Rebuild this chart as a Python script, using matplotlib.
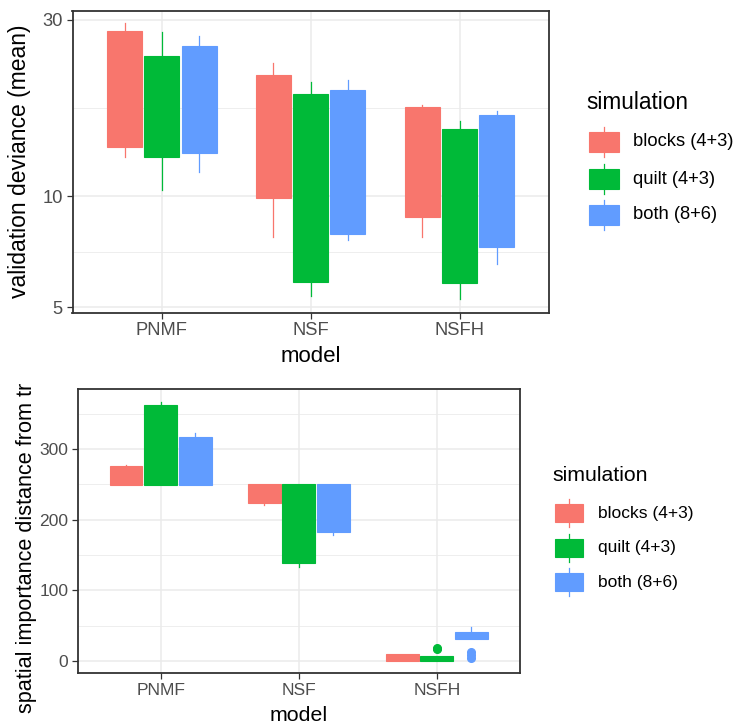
import numpy as np
import matplotlib
matplotlib.use("Agg")
import matplotlib.pyplot as plt
from matplotlib.patches import Rectangle
from matplotlib.lines import Line2D

plt.rcParams['font.family'] = ['Liberation Sans', 'DejaVu Sans']

W, H = 736, 725

models = ["PNMF", "NSF", "NSFH"]
sims = ["blocks (4+3)", "quilt (4+3)", "both (8+6)"]
colors = ["#F8766D", "#00BA38", "#619CFF"]

# validation deviance (mean), one list per simulation, ordered like models
dev_whislo = [[12.8, 7.78, 7.78], [10.4, 5.38, 5.27], [11.6, 7.60, 6.56]]
dev_q1 = [[13.6, 9.9, 8.77], [12.8, 5.85, 5.81], [13.1, 7.91, 7.27]]
dev_med = [[20.0, 15.0, 12.0], [18.0, 11.0, 9.5], [19.0, 13.0, 11.0]]
dev_q3 = [[27.9, 21.3, 17.4], [23.9, 18.9, 15.2], [25.5, 19.4, 16.6]]
dev_whishi = [[29.4, 22.9, 17.7], [27.8, 20.4, 16.0], [27.1, 20.6, 17.0]]

# spatial importance distance from truth
dist_whislo = [[248.8, 221.4, 0.0], [248.8, 132.7, 0.0], [248.8, 178.0, 30.7]]
dist_q1 = [[248.8, 224.2, 0.0], [248.8, 138.3, 0.3], [248.8, 183.2, 30.7]]
dist_med = [[262.0, 240.0, 5.0], [300.0, 200.0, 4.0], [280.0, 220.0, 36.0]]
dist_q3 = [[276.2, 251.2, 10.5], [362.6, 251.2, 7.8], [317.3, 251.2, 41.1]]
dist_whishi = [[277.6, 251.2, 10.5], [366.4, 251.2, 7.8], [322.5, 251.2, 47.7]]
dist_fliers = [[[], [], []], [[], [], [17.0, 19.0]], [[], [], [4.5, 8.5, 13.0]]]


def px(x, y):
    return x / W, 1 - y / H


def style_axes(ax, tick_size):
    ax.set_axisbelow(True)
    ax.grid(True, which="major", color="#EBEBEB", lw=1.15)
    ax.grid(True, which="minor", axis="y", color="#EBEBEB", lw=0.6)
    for s in ax.spines.values():
        s.set_color("#333333")
        s.set_linewidth(1.3)
    ax.tick_params(which="major", direction="out", length=4, width=0.9,
                   color="#333333", labelcolor="#4D4D4D", labelsize=tick_size, pad=3)
    ax.tick_params(which="minor", length=0)
    ax.set_xlim(-0.6, 2.6)
    ax.set_xticks(range(len(models)), models)


def draw_boxes(ax, lo, q1, med, q3, hi, fliers=None, width=0.235):
    for j, c in enumerate(colors):
        stats = []
        for i in range(len(models)):
            stats.append(dict(whislo=lo[j][i], q1=q1[j][i], med=med[j][i],
                              q3=q3[j][i], whishi=hi[j][i],
                              fliers=fliers[j][i] if fliers else []))
        pos = np.arange(len(models)) + (j - 1) * 0.25
        ax.bxp(stats, positions=pos, widths=width, patch_artist=True,
               showcaps=False, manage_ticks=False,
               boxprops=dict(facecolor=c, edgecolor=c, lw=0.8),
               whiskerprops=dict(color=c, lw=0.9),
               medianprops=dict(color=c, lw=0.8),
               flierprops=dict(marker="o", markerfacecolor=c, markeredgecolor=c,
                               markersize=5.5),
               zorder=3)


def draw_legend(fig, title_xy, key_x, key_w, key_h, rows_y, label_x, title_size, label_size):
    fig.text(*px(*title_xy), "simulation", fontsize=title_size, va="baseline", ha="left",
             color="black")
    for lab, col, ry in zip(sims, colors, rows_y):
        cx = (key_x + key_w / 2) / W
        fig.add_artist(Line2D([cx, cx], [1 - (ry - key_h / 2 - 5) / H, 1 - (ry + key_h / 2 + 5) / H],
                              transform=fig.transFigure, color=col, lw=0.9))
        x0, y0 = px(key_x, ry + key_h / 2)
        fig.add_artist(Rectangle((x0, y0), key_w / W, key_h / H, transform=fig.transFigure,
                                 facecolor=col, edgecolor=col, lw=0.8))
        fig.text(*px(label_x, ry), lab, fontsize=label_size, va="center", ha="left",
                 color="black")


fig = plt.figure(figsize=(W / 100, H / 100), dpi=100, facecolor="white")

# top panel: validation deviance, log scale
ax1 = fig.add_axes([72.5 / W, 1 - 312.7 / H, (548.9 - 72.5) / W, (312.7 - 11) / H])
draw_boxes(ax1, dev_whislo, dev_q1, dev_med, dev_q3, dev_whishi)
ax1.set_yscale("log")
ax1.set_ylim(4.84, 31.7)
ax1.set_yticks([5, 10, 30], ["5", "10", "30"])
ax1.set_yticks([np.sqrt(50), np.sqrt(300)], minor=True)
ax1.yaxis.set_minor_formatter(matplotlib.ticker.NullFormatter())
style_axes(ax1, 13.2)

fig.text(*px(19.6, 161.7), "validation deviance (mean)", rotation=90, fontsize=16.5,
         ha="center", va="center")
fig.text(*px(310.7, 362.5), "model", fontsize=16, ha="center", va="baseline")
draw_legend(fig, (586.7, 109.3), 589.3, 29.4, 20, [141.7, 179, 215], 632.7, 16.3, 13.2)

# bottom panel: spatial importance distance
ax2 = fig.add_axes([77.9 / W, 1 - 673.3 / H, (519.6 - 77.9) / W, (673.3 - 389.3) / H])
draw_boxes(ax2, dist_whislo, dist_q1, dist_med, dist_q3, dist_whishi, dist_fliers, width=0.236)
ax2.set_ylim(-17.4, 384.8)
ax2.set_yticks([0, 100, 200, 300])
ax2.set_yticks([50, 150, 250, 350], minor=True)
style_axes(ax2, 12.6)

fig.text(*px(26.8, 713), "spatial importance distance from tr", rotation=90, fontsize=15.6,
         ha="center", va="bottom")
fig.text(*px(298.8, 721), "model", fontsize=15.4, ha="center", va="baseline")
draw_legend(fig, (552.7, 480.7), 555, 28.3, 18.3, [513.3, 547.7, 582.3], 598.3, 15.3, 12.5)

fig.savefig("out.png", dpi=100, facecolor="white")
